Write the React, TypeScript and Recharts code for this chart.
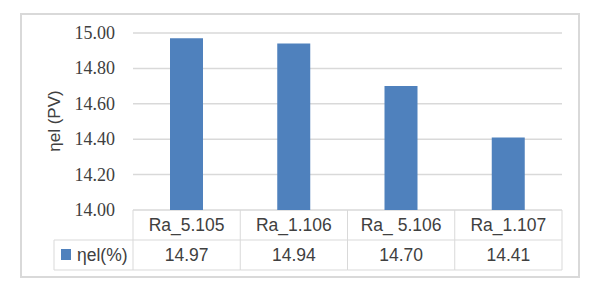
import React from 'react';
import { BarChart, Bar, XAxis, YAxis, CartesianGrid } from 'recharts';

const categories = ['Ra_5.105', 'Ra_1.106', 'Ra_ 5.106', 'Ra_1.107'];
const efficiency = [14.97, 14.94, 14.7, 14.41];
const yTicks = [14.0, 14.2, 14.4, 14.6, 14.8, 15.0];
const seriesName = 'ηel(%)';

const data = categories.map((name, i) => ({ name, value: efficiency[i] }));

const W = 603;
const H = 293;
const PLOT_LEFT = 133;
const PLOT_RIGHT = 562;
const ROW = 30;
const BLUE = '#4f81bd';
const LINE = '#d9d9d9';
const TEXT = '#404040';
const SANS = '"Liberation Sans", Arial, sans-serif';
const SERIF = '"Liberation Serif", "Times New Roman", serif';

const cellW = (PLOT_RIGHT - PLOT_LEFT) / categories.length;

// draws one column of the data table under each category
const TableTick = (props: any) => {
  const { x, y, payload, index } = props;
  const left = x - cellW / 2;
  const right = x + cellW / 2;
  return (
    <g>
      <line x1={left} y1={y} x2={left} y2={y + ROW * 2} stroke={LINE} />
      {index === categories.length - 1 && (
        <line x1={right} y1={y} x2={right} y2={y + ROW * 2} stroke={LINE} />
      )}
      <line x1={left} y1={y + ROW} x2={right} y2={y + ROW} stroke={LINE} />
      <line x1={left} y1={y + ROW * 2} x2={right} y2={y + ROW * 2} stroke={LINE} />
      <text x={x} y={y + 21} textAnchor="middle" fill={TEXT} fontSize={17.5} fontFamily={SANS}>
        {payload.value}
      </text>
      <text x={x} y={y + ROW + 21} textAnchor="middle" fill={TEXT} fontSize={17.5} fontFamily={SANS}>
        {efficiency[index].toFixed(2)}
      </text>
    </g>
  );
};

const YTick = (props: any) => {
  const { x, y, payload } = props;
  return (
    <text x={x} y={y + 6} textAnchor="end" fill={TEXT} fontSize={18} fontFamily={SERIF}>
      {Number(payload.value).toFixed(2)}
    </text>
  );
};

export default function App() {
  return (
    <div style={{ position: 'absolute', left: 0, top: 0, width: W, height: H, background: '#fff' }}>
      <div
        style={{
          position: 'absolute',
          left: 20,
          top: 13,
          width: 560,
          height: 265,
          border: `2px solid ${LINE}`,
          boxSizing: 'border-box',
        }}
      />
      <BarChart
        width={W}
        height={H}
        data={data}
        margin={{ top: 33, right: W - PLOT_RIGHT, left: 53, bottom: 0 }}
        style={{ position: 'absolute', left: 0, top: 0 }}
      >
        <CartesianGrid vertical={false} stroke={LINE} strokeWidth={1.5} />
        <XAxis
          dataKey="name"
          height={83}
          axisLine={false}
          tickLine={false}
          tickSize={0}
          tickMargin={0}
          interval={0}
          tick={<TableTick />}
        />
        <YAxis
          width={80}
          domain={[14, 15]}
          ticks={yTicks}
          axisLine={false}
          tickLine={false}
          tickMargin={12}
          tick={<YTick />}
          label={() => (
            <text
              transform="translate(60,121) rotate(-90)"
              textAnchor="middle"
              fill={TEXT}
              fontSize={17}
              fontFamily={SANS}
            >
              ηel (PV)
            </text>
          )}
        />
        <Bar dataKey="value" fill={BLUE} barSize={33} isAnimationActive={false} />
        <g>
          <line x1={54} y1={240} x2={PLOT_LEFT} y2={240} stroke={LINE} />
          <line x1={54} y1={270} x2={PLOT_LEFT} y2={270} stroke={LINE} />
          <line x1={54} y1={240} x2={54} y2={270} stroke={LINE} />
          <rect x={61} y={249} width={10} height={11} fill={BLUE} />
          <text x={77} y={261} fill={TEXT} fontSize={17.5} fontFamily={SANS}>
            {seriesName}
          </text>
        </g>
      </BarChart>
    </div>
  );
}
